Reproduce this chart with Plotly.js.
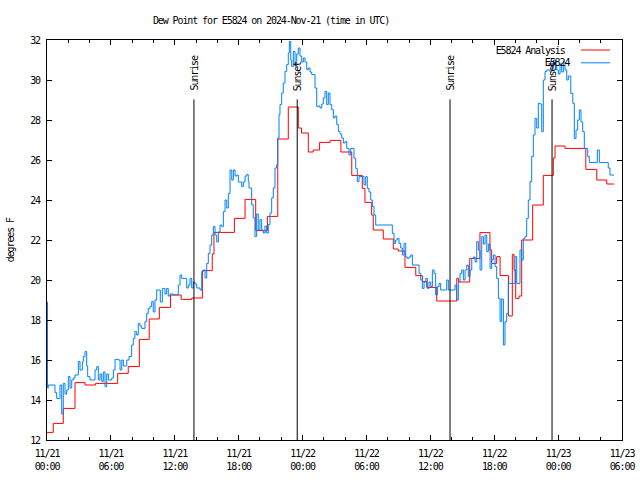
<!DOCTYPE html>
<html>
<head>
<meta charset="utf-8">
<script src="https://cdn.plot.ly/plotly-3.0.1.min.js"></script>
<style>
html,body{margin:0;padding:0;background:#fff;}
#chart{width:640px;height:480px;}
.main-svg text{letter-spacing:-1.1px;}
</style>
</head>
<body>
<div id="chart"></div>
<script>
// Hours since 2024-11-21 00:00 UTC
const redHours = [0,0.59,1.53,2.63,3.57,4.56,6.64,7.63,8.67,9.6,
  10.55,11.6,12.6,13.6,14.59,15.52,15.68,17.6,18.6,19.6,
  20.7,21.67,22.66,23.6,23.9,24.54,25.0,25.6,26.6,27.6,
  28.62,29.61,29.86,30.49,30.64,31.58,32.52,32.99,33.62,34.63,
  35.25,35.66,36.6,38.48,38.65,39.7,40.66,41.6,41.76,42.23,
  42.55,43.34,43.7,43.86,44.02,44.33,44.58,45.61,46.61,47.55,
  47.71,48.65,50.6,51.63,52.57,53.25];
const redValues = [12.38,12.83,13.58,14.87,14.75,14.83,15.33,15.67,17.03,18.05,
  18.63,19.25,19.03,19.1,20.47,21.3,22.38,23.08,24.03,22.47,
  23.18,27.05,28.65,27.6,27.35,26.4,26.5,26.88,26.98,26.4,
  25.23,24.58,23.88,23.25,22.5,22.05,21.55,21.45,20.63,20.22,
  19.92,19.63,18.95,20.08,19.9,21.08,22.37,21.5,20.83,21.17,
  20.22,18.2,21.28,20.5,19.07,19.2,22.0,23.75,25.23,26.1,
  26.7,26.58,25.53,25.0,24.8,24.8];

const blueHours = [0,0.05,0.12,0.75,0.91,1.22,1.38,1.53,1.69,1.85,
  2.0,2.16,2.32,2.47,2.63,2.94,3.1,3.32,3.41,3.57,
  3.73,3.82,4.04,4.51,4.67,4.82,4.98,5.14,5.29,5.45,
  5.61,5.76,6.08,6.23,6.39,6.7,6.86,7.02,7.17,7.49,
  7.7,7.95,8.1,8.26,8.42,8.57,8.73,8.89,9.2,9.36,
  9.51,9.67,9.83,9.98,10.14,10.3,10.64,10.83,11.08,11.24,
  11.39,11.55,11.86,12.33,12.49,12.65,13.12,13.27,13.43,13.59,
  13.74,13.9,14.06,14.37,14.53,14.68,14.84,15.0,15.15,15.31,
  15.47,15.62,15.78,15.94,16.09,16.25,16.41,16.56,16.72,16.88,
  17.03,17.19,17.35,17.5,17.66,17.82,17.97,18.29,18.44,18.6,
  18.76,18.9,18.97,19.22,19.37,19.53,19.69,19.84,20.0,20.16,
  20.31,20.47,20.63,20.78,20.94,21.1,21.25,21.41,21.57,21.67,
  21.79,21.88,22.04,22.19,22.35,22.51,22.66,22.76,22.89,22.98,
  23.13,23.29,23.45,23.6,23.76,23.92,24.07,24.23,24.39,24.54,
  24.7,24.86,25.17,25.33,25.48,25.64,25.8,25.95,26.11,26.27,
  26.42,26.58,26.74,26.89,27.05,27.21,27.36,27.52,27.68,27.83,
  27.99,28.15,28.36,28.52,28.83,28.99,29.14,29.3,29.77,29.93,
  30.08,30.24,30.4,30.55,30.71,30.87,32.43,32.59,32.74,32.9,
  33.06,33.22,33.37,33.53,33.69,33.84,34.0,34.16,34.31,34.94,
  35.1,35.25,35.41,35.57,35.72,35.88,36.04,36.19,36.35,36.5,
  36.66,36.82,36.97,37.54,37.69,38.32,38.48,38.63,38.79,38.95,
  39.1,39.26,39.42,39.57,39.73,39.89,40.04,40.2,40.36,40.51,
  40.67,40.83,40.98,41.14,41.3,41.45,41.61,41.76,41.92,42.08,
  42.23,42.39,42.55,42.7,42.86,43.01,43.17,43.32,43.95,44.11,
  44.42,44.58,44.73,44.89,45.05,45.2,45.36,45.52,45.67,45.83,
  45.99,46.14,46.3,46.46,46.61,46.77,46.93,47.24,47.4,47.55,
  47.71,47.87,48.02,48.18,48.34,48.49,48.65,48.81,48.96,49.19,
  49.38,49.52,49.68,49.84,49.99,50.15,50.31,50.46,50.78,50.93,
  51.68,51.87,52.71,52.87,53.25];
const blueValues = [18.9,14.6,14.75,14.37,14.08,14.75,13.3,14.83,14.3,14.5,
  15.17,14.6,15.0,15.1,15.25,15.92,15.5,15.92,16.17,16.42,
  15.7,15.17,15.0,15.5,15.67,15.0,15.3,14.92,15.4,14.67,
  15.3,15.0,15.1,15.5,16.03,16.0,15.5,16.0,15.7,16.0,
  16.17,16.75,17.08,17.42,17.25,17.83,17.7,17.58,17.92,18.33,
  18.58,18.67,18.92,18.4,19.0,19.5,18.9,19.58,19.3,19.58,
  19.2,19.3,19.25,19.75,20.25,20.08,19.6,19.75,20.08,19.6,
  19.9,19.8,19.6,19.5,20.42,20.5,20.1,20.83,21.33,21.75,
  22.25,22.67,22.25,21.9,22.4,22.75,22.67,23.42,24.0,23.6,
  24.33,25.5,25.0,25.5,25.2,25.25,24.9,24.67,24.9,25.2,
  25.27,24.93,24.6,23.77,23.1,22.18,23.3,22.5,23.02,22.5,
  22.35,22.7,22.35,22.77,23.35,24.1,24.6,25.6,25.77,27.1,
  28.27,28.77,29.35,29.85,30.43,30.77,31.35,31.93,31.0,30.68,
  31.43,30.7,31.3,31.6,31.2,30.9,31.1,30.9,30.52,30.6,
  30.4,30.27,29.6,28.68,28.7,28.6,28.8,29.1,29.43,28.77,
  29.35,28.77,28.52,28.1,28.2,27.77,27.43,27.3,27.1,26.85,
  26.92,26.58,26.25,26.58,26.08,25.58,24.92,25.17,24.75,25.17,
  24.58,24.4,24.0,23.67,23.25,22.75,22.33,21.83,22.0,22.08,
  21.83,21.6,21.25,21.83,21.15,21.08,21.15,21.25,20.75,20.33,
  20.0,19.58,19.9,20.08,19.58,19.9,19.67,20.5,20.33,19.25,
  19.67,19.83,19.5,20.0,19.5,19.75,19.0,19.92,20.33,20.5,
  20.0,20.5,20.75,20.17,20.5,21.08,21.15,20.9,21.92,21.5,
  20.5,22.17,21.8,22.25,21.42,21.8,20.58,21.0,21.25,20.67,
  20.08,19.08,17.92,19.05,16.75,17.92,18.33,19.83,21.17,19.83,
  21.5,21.0,22.08,22.17,23.08,24.0,24.92,26.17,27.25,28.08,
  27.6,28.83,28.8,27.42,30.0,30.42,30.5,30.4,30.58,31.0,
  30.7,30.5,30.3,30.8,30.4,30.9,30.5,30.0,30.2,29.33,
  28.83,27.08,27.5,28.0,28.5,27.9,27.42,26.58,26.17,25.87,
  26.5,25.87,25.6,25.25,25.25];

const sunHours = [13.8, 23.5, 37.85, 47.43];
const sunLabels = ['Sunrise', 'Sunset', 'Sunrise', 'Sunset'];
const sunLineTop = 29.03;

const tickHours = [0, 6, 12, 18, 24, 30, 36, 42, 48, 54];
const tickLabels = ['11/21<br>00:00','11/21<br>06:00','11/21<br>12:00','11/21<br>18:00',
  '11/22<br>00:00','11/22<br>06:00','11/22<br>12:00','11/22<br>18:00',
  '11/23<br>00:00','11/23<br>06:00'];

const seriesNames = ['E5824 Analysis', 'E5824'];
const seriesColors = ['#ff0000', '#0080ff'];

const FONT = {family: 'DejaVu Sans Mono, Liberation Mono, monospace', size: 10, color: '#000'};

const traces = [
  {x: redHours, y: redValues, name: seriesNames[0], mode: 'lines',
   line: {color: seriesColors[0], width: 1, shape: 'hv'}, hoverinfo: 'skip'},
  {x: blueHours, y: blueValues, name: seriesNames[1], mode: 'lines',
   line: {color: seriesColors[1], width: 1, shape: 'hv'}, hoverinfo: 'skip'}
];

const shapes = sunHours.map(h => ({
  type: 'line', xref: 'x', yref: 'y', x0: h, x1: h, y0: 12, y1: sunLineTop,
  line: {color: '#000', width: 1}
}));

const annotations = sunHours.map((h, i) => ({
  xref: 'x', yref: 'y', x: h, y: sunLineTop + 0.15, text: sunLabels[i],
  textangle: -90, xanchor: 'center', yanchor: 'bottom', showarrow: false, font: FONT
}));

// Legend (gnuplot style: text, then line sample on the right)
const legY = [0.975, 0.943];
seriesNames.forEach((n, i) => {
  annotations.push({xref: 'paper', yref: 'paper', x: 0.9165, y: legY[i], text: n,
    xanchor: 'right', yanchor: 'middle', showarrow: false, font: FONT});
  shapes.push({type: 'line', xref: 'paper', yref: 'paper', x0: 0.9287, x1: 0.9791,
    y0: legY[i], y1: legY[i], line: {color: seriesColors[i], width: 1}});
});

annotations.push({xref: 'paper', yref: 'paper', x: -0.064, y: 0.5, text: 'degrees F',
  textangle: -90, xanchor: 'center', yanchor: 'middle', showarrow: false, font: FONT});

const layout = {
  width: 640, height: 480,
  margin: {l: 47, r: 18, t: 40, b: 40},
  paper_bgcolor: '#fff', plot_bgcolor: '#fff',
  font: FONT,
  showlegend: false,
  title: {text: 'Dew Point for E5824 on 2024-Nov-21 (time in UTC)', font: FONT,
    xref: 'container', yref: 'container', x: 271/640, y: 1 - 20/480,
    xanchor: 'center', yanchor: 'middle'},
  xaxis: {
    range: [0, 54], tickmode: 'array', tickvals: tickHours, ticktext: tickLabels,
    ticks: 'inside', ticklen: 5, tickcolor: '#000', tickwidth: 1, ticklabelstandoff: 4,
    minor: {tickmode: 'linear', tick0: 0, dtick: 2, ticks: 'inside', ticklen: 3, tickcolor: '#000'},
    showline: true, linecolor: '#000', linewidth: 1, mirror: 'allticks',
    showgrid: false, zeroline: false, fixedrange: true, tickfont: FONT
  },
  yaxis: {
    range: [12, 32], tickmode: 'linear', tick0: 12, dtick: 2,
    ticks: 'inside', ticklen: 5, tickcolor: '#000', tickwidth: 1, ticklabelstandoff: 4,
    showline: true, linecolor: '#000', linewidth: 1, mirror: 'allticks',
    showgrid: false, zeroline: false, fixedrange: true, tickfont: FONT
  },
  shapes: shapes,
  annotations: annotations
};

Plotly.newPlot('chart', traces, layout, {staticPlot: true, displayModeBar: false});
</script>
</body>
</html>
